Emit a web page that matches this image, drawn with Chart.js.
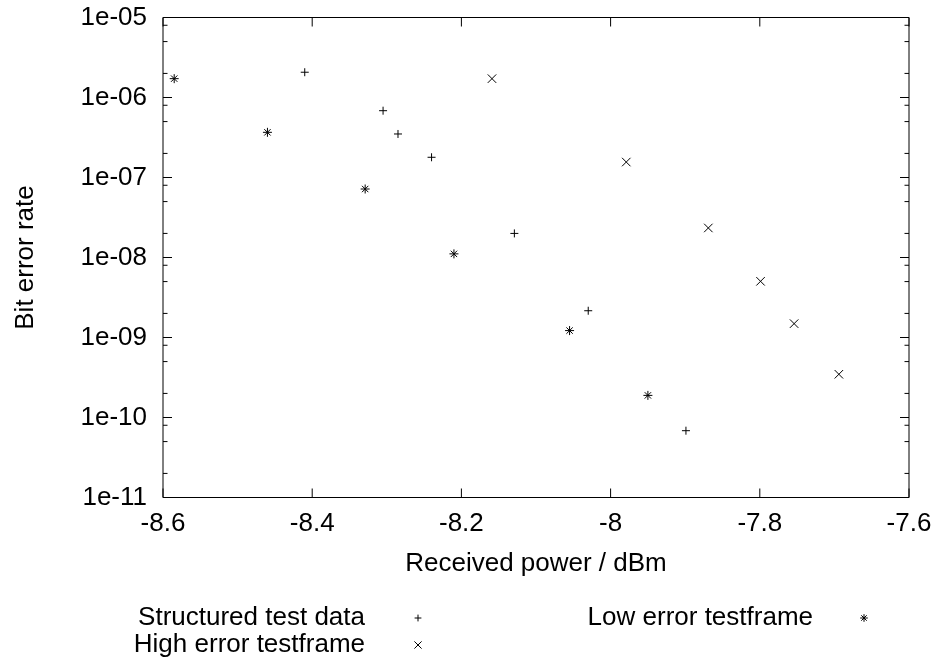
<!DOCTYPE html>
<html>
<head>
<meta charset="utf-8">
<script src="https://cdn.jsdelivr.net/npm/chart.js@4.4.1/dist/chart.umd.min.js"></script>
<style>
  html, body { margin: 0; padding: 0; background: #fff; }
  #wrap { width: 936px; height: 660px; }
</style>
</head>
<body>
<div id="wrap"><canvas id="ber" width="936" height="660"></canvas></div>
<script>
// valori
const structuredX = [-8.41, -8.305, -8.285, -8.24, -8.129, -8.03, -7.899];
const structuredY = [2.07e-6, 6.84e-7, 3.5e-7, 1.79e-7, 2.0e-8, 2.16e-9, 6.84e-11];

const highX = [-8.159, -7.979, -7.869, -7.799, -7.754, -7.694];
const highY = [1.72e-6, 1.56e-7, 2.34e-8, 5.04e-9, 1.49e-9, 3.47e-10];

const lowX = [-8.585, -8.46, -8.329, -8.21, -8.055, -7.95];
const lowY = [1.72e-6, 3.67e-7, 7.18e-8, 1.11e-8, 1.22e-9, 1.89e-10];

const xTicks = [-8.6, -8.4, -8.2, -8.0, -7.8, -7.6];
const yTicks = [1e-11, 1e-10, 1e-9, 1e-8, 1e-7, 1e-6, 1e-5];
const yTickLabels = ["1e-11", "1e-10", "1e-09", "1e-08", "1e-07", "1e-06", "1e-05"];
const yMinorMult = [2, 5, 8];

const FONT = { family: "'Liberation Sans', Arial, sans-serif", size: 26, lineHeight: 1.2 };

function pts(xs, ys) {
  return xs.map((x, i) => ({ x: x, y: ys[i] }));
}

const datasets = [
  { label: "Structured test data", data: pts(structuredX, structuredY), pointStyle: "cross", pointRadius: 4, slot: 0 },
  { label: "High error testframe", data: pts(highX, highY), pointStyle: "crossRot", pointRadius: 6, slot: 1 },
  { label: "Low error testframe", data: pts(lowX, lowY), pointStyle: "star", pointRadius: 4.5, slot: 2 },
].map(d => Object.assign({
  showLine: false,
  borderColor: "#000",
  backgroundColor: "#000",
  pointBorderWidth: 1,
  pointHoverRadius: d.pointRadius,
}, d));

// cornice con tacche interne su tutti i lati (stile gnuplot)
const framePlugin = {
  id: "frame",
  afterDraw(chart) {
    const { ctx, chartArea: a, scales } = chart;
    const xs = scales.x, ys = scales.y;
    ctx.save();
    ctx.strokeStyle = "#000";
    ctx.lineWidth = 1;
    ctx.beginPath();
    ctx.rect(a.left, a.top, a.right - a.left, a.bottom - a.top);
    ctx.stroke();

    ctx.beginPath();
    xTicks.forEach(v => {
      const px = xs.getPixelForValue(v);
      ctx.moveTo(px, a.bottom); ctx.lineTo(px, a.bottom - 9);
      ctx.moveTo(px, a.top); ctx.lineTo(px, a.top + 9);
    });
    yTicks.forEach((v, i) => {
      const py = ys.getPixelForValue(v);
      ctx.moveTo(a.left, py); ctx.lineTo(a.left + 9, py);
      ctx.moveTo(a.right, py); ctx.lineTo(a.right - 9, py);
      if (i < yTicks.length - 1) {
        yMinorMult.forEach(m => {
          const pm = ys.getPixelForValue(v * m);
          ctx.moveTo(a.left, pm); ctx.lineTo(a.left + 4.5, pm);
          ctx.moveTo(a.right, pm); ctx.lineTo(a.right - 4.5, pm);
        });
      }
    });
    ctx.stroke();
    ctx.restore();
  }
};

// legenda in basso: testo allineato a destra, poi il simbolo
const legendPlugin = {
  id: "gnuLegend",
  afterDraw(chart) {
    const { ctx } = chart;
    const slots = [
      { textRight: 365, symX: 418, y: 618 },
      { textRight: 365, symX: 418, y: 645 },
      { textRight: 813, symX: 864, y: 618 },
    ];
    ctx.save();
    ctx.fillStyle = "#000";
    ctx.strokeStyle = "#000";
    ctx.lineWidth = 1;
    ctx.font = FONT.size + "px " + FONT.family;
    ctx.textAlign = "right";
    ctx.textBaseline = "middle";
    chart.data.datasets.forEach(ds => {
      const s = slots[ds.slot];
      ctx.fillText(ds.label, s.textRight, s.y);
      Chart.helpers.drawPoint(ctx, {
        pointStyle: ds.pointStyle,
        radius: ds.pointRadius * 0.85,
        borderWidth: 1,
        rotation: 0,
      }, s.symX, s.y);
    });
    ctx.restore();
  }
};

new Chart(document.getElementById("ber"), {
  type: "scatter",
  data: { datasets: datasets },
  options: {
    responsive: false,
    animation: false,
    events: [],
    layout: { padding: { left: 0, right: 27, top: 17.5, bottom: 80 } },
    plugins: {
      legend: { display: false },
      tooltip: { enabled: false },
      title: { display: false },
    },
    scales: {
      x: {
        type: "linear",
        min: -8.6,
        max: -7.6,
        grid: { display: false, drawTicks: false },
        border: { display: false },
        afterBuildTicks: s => { s.ticks = xTicks.map(v => ({ value: v })); },
        afterFit: s => { s.height = 82.5; s.paddingLeft = 0; s.paddingRight = 0; },
        ticks: {
          autoSkip: false,
          maxRotation: 0,
          padding: 11,
          color: "#000",
          font: FONT,
          callback: v => String(Number(v.toFixed(1))),
        },
        title: {
          display: true,
          text: "Received power / dBm",
          color: "#000",
          font: FONT,
          padding: { top: 0, bottom: 0.4 },
        },
      },
      y: {
        type: "logarithmic",
        min: 1e-11,
        max: 1e-5,
        grid: { display: false, drawTicks: false },
        border: { display: false },
        afterBuildTicks: s => { s.ticks = yTicks.map(v => ({ value: v, major: true })); },
        afterFit: s => { s.width = 163; s.paddingTop = 0; s.paddingBottom = 0; },
        ticks: {
          autoSkip: false,
          padding: 16,
          color: "#000",
          font: FONT,
          callback: (v, i) => yTickLabels[i],
        },
        title: {
          display: true,
          text: "Bit error rate",
          color: "#000",
          font: FONT,
          padding: { top: 10.4, bottom: 0 },
        },
      },
    },
  },
  plugins: [framePlugin, legendPlugin],
});
</script>
</body>
</html>
